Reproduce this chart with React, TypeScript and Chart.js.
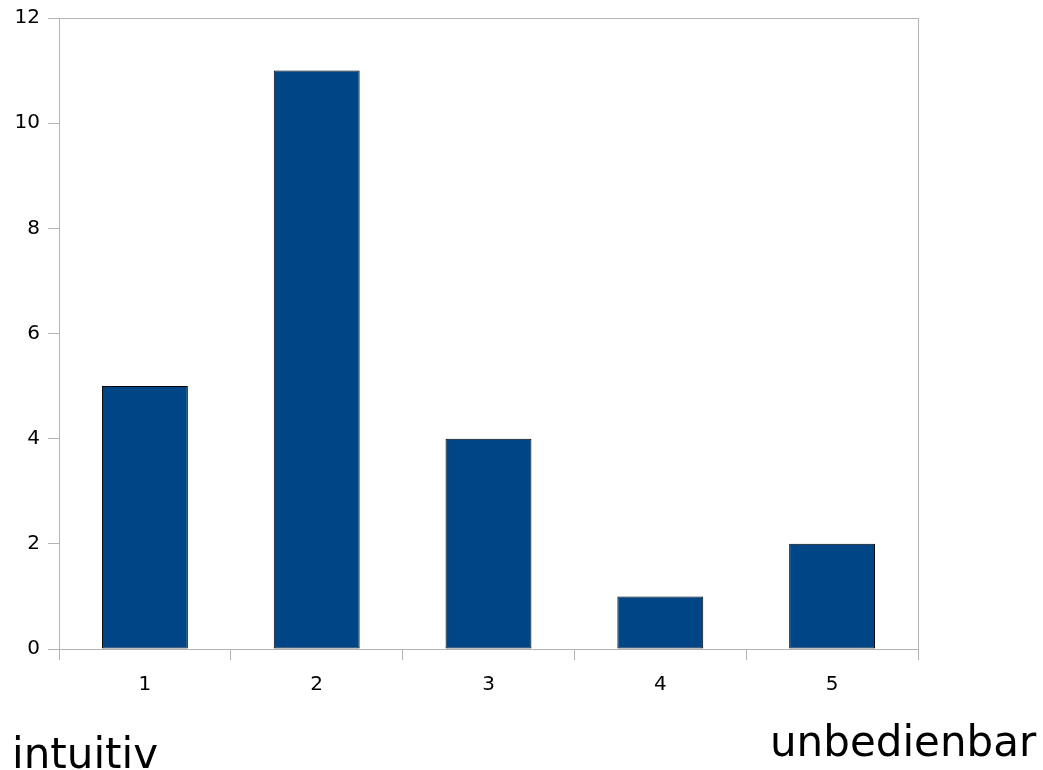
import React, { useEffect, useRef } from "react";
import { Chart, registerables } from "chart.js";

Chart.register(...registerables);

const categories = ["1", "2", "3", "4", "5"];
const values = [5, 11, 4, 1, 2];
const yTicks = [0, 2, 4, 6, 8, 10, 12];
const leftLabel = "intuitiv";
const rightLabel = "unbedienbar";

const AXIS_COLOR = "#b3b3b3";
const FONT = "'DejaVu Sans', sans-serif";

const framePlugin = {
  id: "frame",
  beforeDatasetsDraw(chart: any) {
    const { ctx, chartArea } = chart;
    ctx.save();
    ctx.strokeStyle = AXIS_COLOR;
    ctx.lineWidth = 1;
    ctx.strokeRect(
      Math.round(chartArea.left) + 0.5,
      Math.round(chartArea.top) + 0.5,
      Math.round(chartArea.right - chartArea.left),
      Math.round(chartArea.bottom - chartArea.top)
    );
    ctx.restore();
  },
};

export default function App() {
  const ref = useRef<HTMLCanvasElement | null>(null);

  useEffect(() => {
    if (!ref.current) return;
    const chart = new Chart(ref.current, {
      type: "bar",
      data: {
        labels: categories,
        datasets: [
          {
            data: values,
            backgroundColor: "#004586",
            borderColor: "#000000",
            borderWidth: 1,
            borderSkipped: false,
            barPercentage: 0.5,
            categoryPercentage: 1,
          },
        ],
      },
      options: {
        responsive: false,
        animation: false,
        layout: { padding: { top: 18, right: 125, left: 0, bottom: 0 } },
        plugins: {
          legend: { display: false },
          tooltip: { enabled: false },
          title: { display: false },
        },
        scales: {
          x: {
            grid: {
              offset: true,
              drawOnChartArea: false,
              drawTicks: true,
              tickLength: 11,
              color: AXIS_COLOR,
            },
            border: { display: true, color: AXIS_COLOR },
            ticks: {
              color: "#000",
              font: { family: FONT, size: 20 },
              padding: 13,
            },
            afterFit: (scale: any) => {
              scale.height = 121;
              scale.paddingLeft = 0;
              scale.paddingRight = 0;
            },
          },
          y: {
            min: 0,
            max: 12,
            afterBuildTicks: (scale: any) => {
              scale.ticks = yTicks.map((v) => ({ value: v }));
            },
            grid: {
              drawOnChartArea: false,
              drawTicks: true,
              tickLength: 11,
              color: AXIS_COLOR,
            },
            border: { display: true, color: AXIS_COLOR },
            ticks: {
              color: "#000",
              font: { family: FONT, size: 20 },
              padding: 8,
            },
            afterFit: (scale: any) => {
              scale.width = 59;
              scale.paddingTop = 0;
              scale.paddingBottom = 0;
            },
          },
        },
      },
      plugins: [framePlugin],
    });
    return () => chart.destroy();
  }, []);

  const textStyle: React.CSSProperties = {
    position: "absolute",
    fontFamily: FONT,
    fontSize: 42,
    lineHeight: "42px",
    color: "#000",
    whiteSpace: "nowrap",
  };

  return (
    <div
      style={{
        position: "absolute",
        left: 0,
        top: 0,
        width: 1043,
        height: 770,
        overflow: "hidden",
        background: "#fff",
      }}
    >
      <canvas ref={ref} width={1043} height={770} style={{ display: "block" }} />
      <div style={{ ...textStyle, left: 12, top: 733 }}>{leftLabel}</div>
      <div style={{ ...textStyle, left: 770, top: 721 }}>{rightLabel}</div>
    </div>
  );
}
